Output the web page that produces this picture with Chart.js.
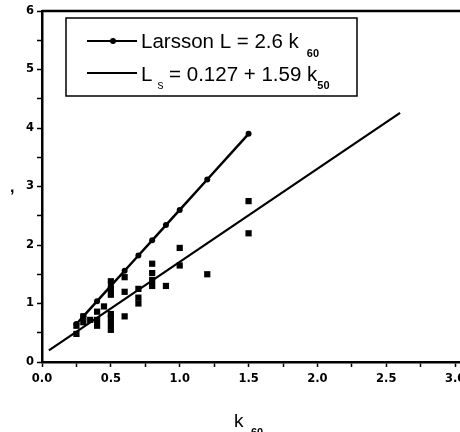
<!DOCTYPE html>
<html>
<head>
<meta charset="utf-8">
<script src="https://cdn.jsdelivr.net/npm/chart.js@4/dist/chart.umd.min.js"></script>
<style>
    html, body { margin: 0; padding: 0; background: #fff; overflow: hidden; }
    #myChart { position: absolute; left: 0; top: 0; }
</style>
</head>
<body>
<canvas id="myChart" width="540" height="432"></canvas>
<script>
// Larsson relation points (L = 2.6 k50)
const larssonK = [0.25, 0.3, 0.4, 0.5, 0.6, 0.7, 0.8, 0.9, 1.0, 1.2, 1.5];
const larssonL = [0.65, 0.78, 1.04, 1.3, 1.56, 1.82, 2.08, 2.34, 2.6, 3.12, 3.9];

// fitted line Ls = 0.127 + 1.59 k50
const fitK = [0.05, 2.6];
const fitL = [0.2, 4.26];

// measured points (squares)
const obsK = [0.25, 0.25, 0.3, 0.3, 0.35, 0.4, 0.4, 0.4, 0.45, 0.5, 0.5, 0.5, 0.5, 0.5, 0.5, 0.5,
    0.6, 0.6, 0.6, 0.7, 0.7, 0.7, 0.8, 0.8, 0.8, 0.8, 0.9, 1.0, 1.0, 1.2, 1.5, 1.5];
const obsL = [0.48, 0.62, 0.68, 0.78, 0.72, 0.62, 0.72, 0.86, 0.95, 0.55, 0.65, 0.75, 0.82, 1.15, 1.25, 1.38,
    0.78, 1.2, 1.45, 1.0, 1.1, 1.25, 1.3, 1.4, 1.52, 1.68, 1.3, 1.65, 1.95, 1.5, 2.2, 2.75];

const legendText = ['Larsson L = 2.6 k', 'L', ' = 0.127 + 1.59 k'];
const legendSubs = ['60', 's', '50'];
const xTitle = 'k';
const xTitleSub = '60';
const yTitle = ',';

const sans = '"Liberation Sans", Arial, sans-serif';
const tickFont = { family: '"DejaVu Sans", sans-serif', size: 11.5, weight: 'bold' };

const toPoints = (xs, ys) => xs.map((x, i) => ({ x: x, y: ys[i] }));

const isMajor = (v, step) => Math.abs(v / step - Math.round(v / step)) < 1e-6;

const extras = {
    id: 'extras',
    afterDraw(chart) {
        const ctx = chart.ctx;
        const a = chart.chartArea;
        ctx.save();
        ctx.fillStyle = '#000';
        ctx.strokeStyle = '#000';

        // top frame line
        ctx.lineWidth = 2.5;
        ctx.beginPath();
        ctx.moveTo(a.left, a.top);
        ctx.lineTo(a.right, a.top);
        ctx.stroke();

        // legend box
        ctx.lineWidth = 1.5;
        ctx.strokeRect(66, 18, 291, 78);

        // legend samples
        ctx.lineWidth = 2;
        ctx.beginPath();
        ctx.moveTo(87, 41); ctx.lineTo(137, 41);
        ctx.moveTo(87, 73); ctx.lineTo(137, 73);
        ctx.stroke();
        ctx.beginPath();
        ctx.arc(113, 41, 3, 0, Math.PI * 2);
        ctx.fill();

        // legend text
        ctx.textBaseline = 'alphabetic';
        ctx.textAlign = 'left';
        ctx.font = '20.5px ' + sans;
        ctx.fillText(legendText[0], 141, 48);
        let w = ctx.measureText(legendText[0]).width;
        ctx.font = 'bold 11px ' + sans;
        ctx.fillText(legendSubs[0], 141 + w + 8, 57);

        ctx.font = '20.5px ' + sans;
        ctx.fillText(legendText[1], 141, 81);
        w = ctx.measureText(legendText[1]).width;
        ctx.font = '12px ' + sans;
        ctx.fillText(legendSubs[1], 141 + w + 5, 89);
        const w2 = ctx.measureText(legendSubs[1]).width;
        ctx.font = '20.5px ' + sans;
        ctx.fillText(legendText[2], 141 + w + 5 + w2, 81);
        const w3 = ctx.measureText(legendText[2]).width;
        ctx.font = 'bold 11px ' + sans;
        ctx.fillText(legendSubs[2], 141 + w + 5 + w2 + w3, 89);

        // axis titles
        ctx.font = '19px ' + sans;
        ctx.fillText(xTitle, 234, 427);
        ctx.font = 'bold 11px ' + sans;
        ctx.fillText(xTitleSub, 251, 436);
        ctx.font = 'bold 16px ' + sans;
        ctx.fillText(yTitle, 10, 192);
        ctx.restore();
    }
};

const config = {
    type: 'scatter',
    data: {
        datasets: [{
            label: 'Larsson',
            type: 'line',
            data: toPoints(larssonK, larssonL),
            borderColor: '#000',
            backgroundColor: '#000',
            borderWidth: 2.5,
            pointRadius: 3,
            pointBorderWidth: 0,
            pointStyle: 'circle',
            showLine: true,
            tension: 0
        }, {
            label: 'Ls fit',
            type: 'line',
            data: toPoints(fitK, fitL),
            borderColor: '#000',
            borderWidth: 2.2,
            pointRadius: 0,
            showLine: true,
            tension: 0
        }, {
            label: 'measured',
            data: toPoints(obsK, obsL),
            borderColor: '#000',
            backgroundColor: '#000',
            pointStyle: 'rect',
            pointRadius: 4.4,
            borderWidth: 0
        }]
    },
    options: {
        responsive: false,
        animation: false,
        layout: { padding: { top: 11, right: 16, left: 0, bottom: 0 } },
        plugins: {
            legend: { display: false },
            tooltip: { enabled: false }
        },
        scales: {
            x: {
                type: 'linear',
                min: 0,
                max: 3.5,
                afterFit: s => { s.height = 70; },
                ticks: {
                    stepSize: 0.25,
                    autoSkip: false,
                    maxRotation: 0,
                    color: '#000',
                    padding: 5,
                    font: tickFont,
                    callback: v => isMajor(v, 0.5) ? v.toFixed(1) : ''
                },
                grid: {
                    drawOnChartArea: false,
                    drawTicks: true,
                    tickLength: 5,
                    tickColor: '#000',
                    tickWidth: 1.5
                },
                border: { color: '#000', width: 2.5 }
            },
            y: {
                type: 'linear',
                min: 0,
                max: 6,
                afterFit: s => { s.width = 42; },
                ticks: {
                    stepSize: 0.5,
                    autoSkip: false,
                    color: '#000',
                    padding: 3,
                    font: tickFont,
                    callback: v => isMajor(v, 1) ? String(v) : ''
                },
                grid: {
                    drawOnChartArea: false,
                    drawTicks: true,
                    tickLength: 5,
                    tickColor: '#000',
                    tickWidth: 1.5
                },
                border: { color: '#000', width: 2.5 }
            }
        }
    },
    plugins: [extras]
};

const myChart = new Chart(document.getElementById('myChart'), config);
</script>
</body>
</html>
